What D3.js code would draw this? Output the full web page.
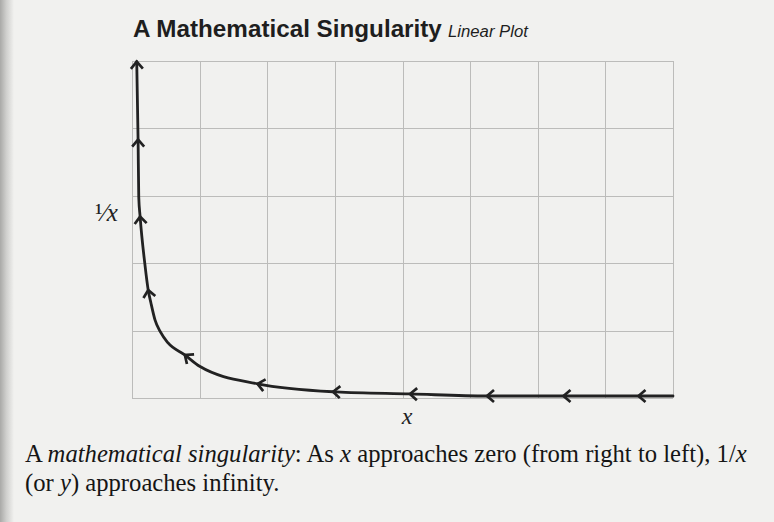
<!DOCTYPE html>
<html>
<head>
<meta charset="utf-8">
<script src="https://cdn.jsdelivr.net/npm/d3@7"></script>
<style>
  html, body { margin: 0; padding: 0; background: #f1f1ef; }
  svg { display: block; }
</style>
</head>
<body>
<svg id="chart" width="774" height="522"></svg>
<script>
// Grid cells (data units)
const gridCols = [0, 1, 2, 3, 4, 5, 6, 7, 8];
const gridRows = [0, 1, 2, 3, 4, 5];

// Curve (x ascending; travel direction is right to left)
const curveX = [0.07, 0.09, 0.10, 0.12, 0.19, 0.24, 0.28, 0.34, 0.42, 0.53, 0.78, 1.00, 1.86, 3.02, 4.11, 5.25, 6.38, 7.49, 8.0];
const curveY = [4.99, 3.83, 2.98, 2.69, 1.99, 1.60, 1.41, 1.16, 0.98, 0.82, 0.64, 0.47, 0.21, 0.09, 0.06, 0.03, 0.03, 0.03, 0.03];

// Direction chevrons along the curve
const arrowX = [7.49, 6.38, 5.25, 4.11, 2.97, 1.86, 0.78, 0.24, 0.12, 0.09];
const arrowY = [0.03, 0.03, 0.03, 0.06, 0.09, 0.21, 0.64, 1.60, 2.69, 3.83];

const svg = d3.select('#chart');
const W = 774, H = 522;
const plot = { left: 132, right: 673, top: 61, bottom: 398 };

// Paper edge shading
const defs = svg.append('defs');
const grad = defs.append('linearGradient').attr('id', 'edge').attr('x1', 0).attr('x2', 1);
grad.append('stop').attr('offset', 0).attr('stop-color', '#a9a9a7');
grad.append('stop').attr('offset', 0.45).attr('stop-color', '#cfcfcd');
grad.append('stop').attr('offset', 1).attr('stop-color', '#f1f1ef');
svg.append('rect').attr('width', W).attr('height', H).attr('fill', '#f1f1ef');
svg.append('rect').attr('width', 14).attr('height', H).attr('fill', 'url(#edge)');

const x = d3.scaleLinear().domain([0, 8]).range([plot.left, plot.right]);
const y = d3.scaleLinear().domain([0, 5]).range([plot.bottom, plot.top]);

// Grid
const grid = svg.append('g').attr('stroke', '#bcbcba').attr('stroke-width', 1).attr('shape-rendering', 'crispEdges');
grid.selectAll('.v').data(gridCols).join('line')
    .attr('x1', d => Math.round(x(d)) + 0.5).attr('x2', d => Math.round(x(d)) + 0.5)
    .attr('y1', y(5)).attr('y2', y(0));
grid.selectAll('.h').data(gridRows).join('line')
    .attr('y1', d => Math.round(y(d)) + 0.5).attr('y2', d => Math.round(y(d)) + 0.5)
    .attr('x1', x(0)).attr('x2', x(8));

// Curve
const pts = curveX.map((v, i) => [x(v), y(curveY[i])]);
const line = d3.line().curve(d3.curveMonotoneX);
const path = svg.append('path')
    .attr('d', line(pts))
    .attr('fill', 'none').attr('stroke', '#222').attr('stroke-width', 2.8)
    .attr('stroke-linecap', 'round');

// Chevrons, pointing against the path's drawing order (right to left)
const node = path.node();
const total = node.getTotalLength();
const samples = d3.range(0, total, 0.5).map(l => ({ l, p: node.getPointAtLength(l) }));
const chevron = 'M-7,-6L0,0L-7,6';

function drawChevron(l) {
    const p = node.getPointAtLength(l);
    const a = node.getPointAtLength(Math.max(0, l - 1.5));
    const b = node.getPointAtLength(Math.min(total, l + 1.5));
    const ang = Math.atan2(a.y - b.y, a.x - b.x) * 180 / Math.PI;
    svg.append('path')
        .attr('d', chevron)
        .attr('transform', `translate(${p.x},${p.y}) rotate(${ang})`)
        .attr('fill', 'none').attr('stroke', '#222').attr('stroke-width', 2.7)
        .attr('stroke-linejoin', 'miter').attr('stroke-linecap', 'butt');
}

arrowX.forEach((v, i) => {
    const px = x(v), py = y(arrowY[i]);
    const best = d3.least(samples, s => (s.p.x - px) ** 2 + (s.p.y - py) ** 2);
    drawChevron(best.l);
});
drawChevron(0);

// Title
function fitText(sel, width) {
    const fs = parseFloat(sel.attr('font-size'));
    const len = sel.node().getComputedTextLength();
    sel.attr('font-size', fs * width / len);
}

const title = svg.append('text')
    .attr('x', 133).attr('y', 37)
    .attr('font-family', '"Liberation Sans", Arial, sans-serif')
    .attr('font-weight', 700).attr('font-size', 20).attr('fill', '#1e1e1e')
    .text('A Mathematical Singularity');
fitText(title, 309);

const sub = svg.append('text')
    .attr('x', 448).attr('y', 37)
    .attr('font-family', '"Liberation Sans", Arial, sans-serif')
    .attr('font-style', 'italic').attr('font-size', 13).attr('fill', '#1e1e1e')
    .text('Linear Plot');
fitText(sub, 80);

// Axis labels
const serif = '"Liberation Serif", "Times New Roman", serif';
const yLab = svg.append('text')
    .attr('x', 95).attr('y', 221)
    .attr('font-family', serif).attr('font-size', 25).attr('fill', '#222');
yLab.append('tspan').text('\u00B9\u2044');
yLab.append('tspan').attr('font-style', 'italic').text('x');

svg.append('text')
    .attr('x', 407).attr('y', 424).attr('text-anchor', 'middle')
    .attr('font-family', serif).attr('font-style', 'italic')
    .attr('font-size', 24).attr('fill', '#222')
    .text('x');

// Caption
const cap1 = svg.append('text')
    .attr('x', 25).attr('y', 462)
    .attr('font-family', serif).attr('font-size', 22).attr('fill', '#151515');
cap1.append('tspan').text('A ');
cap1.append('tspan').attr('font-style', 'italic').text('mathematical singularity');
cap1.append('tspan').text(': As ');
cap1.append('tspan').attr('font-style', 'italic').text('x');
cap1.append('tspan').text(' approaches zero (from right to left), 1/');
cap1.append('tspan').attr('font-style', 'italic').text('x');
fitText(cap1, 722);

const cap2 = svg.append('text')
    .attr('x', 25).attr('y', 491)
    .attr('font-family', serif).attr('font-size', cap1.attr('font-size')).attr('fill', '#151515');
cap2.append('tspan').text('(or ');
cap2.append('tspan').attr('font-style', 'italic').text('y');
cap2.append('tspan').text(') approaches infinity.');
</script>
</body>
</html>
